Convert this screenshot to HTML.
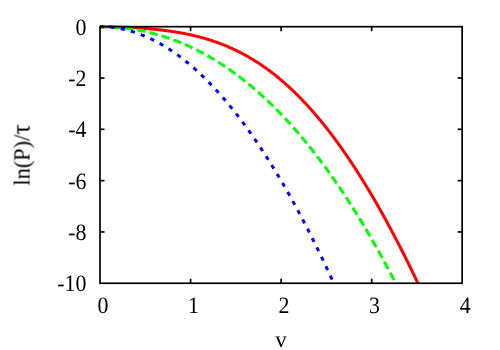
<!DOCTYPE html>
<html><head><meta charset="utf-8"><title>plot</title>
<style>
html,body{margin:0;padding:0;background:#fff;}
body{width:500px;height:350px;overflow:hidden;}
svg{display:block;}
text{font-family:"Liberation Serif",serif;font-size:22.8px;fill:#000;text-rendering:geometricPrecision;}
</style></head><body>
<svg width="500" height="350" viewBox="0 0 500 350">
<rect width="500" height="350" fill="#fff"/>
<g fill="none" stroke-width="3" stroke-linejoin="round">
<path d="M100.00,26.70 L100.64,26.70 L101.27,26.70 L101.91,26.70 L102.55,26.71 L103.19,26.71 L103.82,26.71 L104.46,26.72 L105.10,26.72 L105.73,26.73 L106.37,26.74 L107.01,26.75 L107.65,26.76 L108.28,26.76 L108.92,26.77 L109.56,26.79 L110.19,26.80 L110.83,26.81 L111.47,26.82 L112.11,26.84 L112.74,26.85 L113.38,26.86 L114.02,26.88 L114.65,26.90 L115.29,26.91 L115.93,26.93 L116.57,26.95 L117.20,26.97 L117.84,26.99 L118.48,27.01 L119.11,27.03 L119.75,27.05 L120.39,27.07 L121.02,27.09 L121.66,27.12 L122.30,27.14 L122.94,27.17 L123.57,27.19 L124.21,27.22 L124.85,27.24 L125.48,27.27 L126.12,27.30 L126.76,27.33 L127.40,27.36 L128.03,27.39 L128.67,27.42 L129.31,27.45 L129.94,27.48 L130.58,27.51 L131.22,27.55 L131.86,27.58 L132.49,27.61 L133.13,27.65 L133.77,27.69 L134.40,27.72 L135.04,27.76 L135.68,27.80 L136.32,27.84 L136.95,27.88 L137.59,27.92 L138.23,27.96 L138.86,28.00 L139.50,28.04 L140.14,28.09 L140.78,28.13 L141.41,28.18 L142.05,28.22 L142.69,28.27 L143.32,28.31 L143.96,28.36 L144.60,28.41 L145.24,28.46 L145.87,28.51 L146.51,28.56 L147.15,28.62 L147.78,28.67 L148.42,28.72 L149.06,28.78 L149.70,28.83 L150.33,28.89 L150.97,28.95 L151.61,29.01 L152.24,29.07 L152.88,29.13 L153.52,29.19 L154.15,29.25 L154.79,29.32 L155.43,29.38 L156.07,29.45 L156.70,29.51 L157.34,29.58 L157.98,29.65 L158.61,29.72 L159.25,29.79 L159.89,29.86 L160.53,29.93 L161.16,30.01 L161.80,30.08 L162.44,30.16 L163.07,30.24 L163.71,30.31 L164.35,30.39 L164.99,30.47 L165.62,30.56 L166.26,30.64 L166.90,30.72 L167.53,30.81 L168.17,30.90 L168.81,30.98 L169.45,31.07 L170.08,31.16 L170.72,31.26 L171.36,31.35 L171.99,31.44 L172.63,31.54 L173.27,31.64 L173.91,31.74 L174.54,31.84 L175.18,31.94 L175.82,32.04 L176.45,32.14 L177.09,32.25 L177.73,32.36 L178.37,32.47 L179.00,32.58 L179.64,32.69 L180.28,32.80 L180.91,32.92 L181.55,33.03 L182.19,33.15 L182.83,33.27 L183.46,33.39 L184.10,33.51 L184.74,33.64 L185.37,33.76 L186.01,33.89 L186.65,34.02 L187.28,34.15 L187.92,34.28 L188.56,34.42 L189.20,34.55 L189.83,34.69 L190.47,34.83 L191.11,34.97 L191.74,35.12 L192.38,35.26 L193.02,35.41 L193.66,35.56 L194.29,35.71 L194.93,35.86 L195.57,36.01 L196.20,36.17 L196.84,36.33 L197.48,36.49 L198.12,36.65 L198.75,36.81 L199.39,36.98 L200.03,37.15 L200.66,37.32 L201.30,37.49 L201.94,37.66 L202.58,37.84 L203.21,38.02 L203.85,38.20 L204.49,38.38 L205.12,38.56 L205.76,38.75 L206.40,38.94 L207.04,39.13 L207.67,39.32 L208.31,39.52 L208.95,39.72 L209.58,39.91 L210.22,40.12 L210.86,40.32 L211.50,40.53 L212.13,40.74 L212.77,40.95 L213.41,41.16 L214.04,41.38 L214.68,41.60 L215.32,41.82 L215.96,42.04 L216.59,42.26 L217.23,42.49 L217.87,42.72 L218.50,42.96 L219.14,43.19 L219.78,43.43 L220.41,43.67 L221.05,43.91 L221.69,44.16 L222.33,44.40 L222.96,44.65 L223.60,44.91 L224.24,45.16 L224.87,45.42 L225.51,45.68 L226.15,45.94 L226.79,46.21 L227.42,46.48 L228.06,46.75 L228.70,47.02 L229.33,47.30 L229.97,47.58 L230.61,47.86 L231.25,48.15 L231.88,48.44 L232.52,48.73 L233.16,49.02 L233.79,49.32 L234.43,49.61 L235.07,49.92 L235.71,50.22 L236.34,50.53 L236.98,50.84 L237.62,51.15 L238.25,51.47 L238.89,51.79 L239.53,52.11 L240.17,52.43 L240.80,52.76 L241.44,53.09 L242.08,53.43 L242.71,53.76 L243.35,54.10 L243.99,54.45 L244.63,54.79 L245.26,55.14 L245.90,55.49 L246.54,55.85 L247.17,56.21 L247.81,56.57 L248.45,56.93 L249.09,57.30 L249.72,57.67 L250.36,58.04 L251.00,58.42 L251.63,58.80 L252.27,59.18 L252.91,59.57 L253.55,59.96 L254.18,60.35 L254.82,60.75 L255.46,61.15 L256.09,61.55 L256.73,61.96 L257.37,62.36 L258.00,62.78 L258.64,63.19 L259.28,63.61 L259.92,64.03 L260.55,64.46 L261.19,64.89 L261.83,65.32 L262.46,65.76 L263.10,66.20 L263.74,66.64 L264.38,67.08 L265.01,67.53 L265.65,67.99 L266.29,68.44 L266.92,68.90 L267.56,69.36 L268.20,69.83 L268.84,70.30 L269.47,70.77 L270.11,71.25 L270.75,71.73 L271.38,72.21 L272.02,72.70 L272.66,73.19 L273.30,73.69 L273.93,74.18 L274.57,74.69 L275.21,75.19 L275.84,75.70 L276.48,76.21 L277.12,76.73 L277.76,77.25 L278.39,77.77 L279.03,78.29 L279.67,78.82 L280.30,79.36 L280.94,79.89 L281.58,80.44 L282.22,80.98 L282.85,81.53 L283.49,82.08 L284.13,82.63 L284.76,83.19 L285.40,83.76 L286.04,84.32 L286.68,84.89 L287.31,85.47 L287.95,86.04 L288.59,86.62 L289.22,87.21 L289.86,87.80 L290.50,88.39 L291.13,88.99 L291.77,89.59 L292.41,90.19 L293.05,90.80 L293.68,91.41 L294.32,92.02 L294.96,92.64 L295.59,93.26 L296.23,93.89 L296.87,94.52 L297.51,95.15 L298.14,95.79 L298.78,96.43 L299.42,97.07 L300.05,97.72 L300.69,98.37 L301.33,99.03 L301.97,99.69 L302.60,100.35 L303.24,101.02 L303.88,101.69 L304.51,102.37 L305.15,103.05 L305.79,103.73 L306.43,104.41 L307.06,105.10 L307.70,105.80 L308.34,106.50 L308.97,107.20 L309.61,107.90 L310.25,108.61 L310.89,109.33 L311.52,110.04 L312.16,110.77 L312.80,111.49 L313.43,112.22 L314.07,112.95 L314.71,113.69 L315.35,114.43 L315.98,115.17 L316.62,115.92 L317.26,116.67 L317.89,117.43 L318.53,118.19 L319.17,118.95 L319.81,119.72 L320.44,120.49 L321.08,121.26 L321.72,122.04 L322.35,122.83 L322.99,123.61 L323.63,124.40 L324.26,125.20 L324.90,126.00 L325.54,126.80 L326.18,127.60 L326.81,128.41 L327.45,129.23 L328.09,130.05 L328.72,130.87 L329.36,131.69 L330.00,132.52 L330.64,133.36 L331.27,134.19 L331.91,135.03 L332.55,135.88 L333.18,136.73 L333.82,137.58 L334.46,138.44 L335.10,139.30 L335.73,140.16 L336.37,141.03 L337.01,141.90 L337.64,142.78 L338.28,143.66 L338.92,144.54 L339.56,145.43 L340.19,146.32 L340.83,147.21 L341.47,148.11 L342.10,149.02 L342.74,149.92 L343.38,150.83 L344.02,151.75 L344.65,152.67 L345.29,153.59 L345.93,154.51 L346.56,155.44 L347.20,156.38 L347.84,157.31 L348.48,158.26 L349.11,159.20 L349.75,160.15 L350.39,161.10 L351.02,162.06 L351.66,163.02 L352.30,163.98 L352.94,164.95 L353.57,165.92 L354.21,166.90 L354.85,167.88 L355.48,168.86 L356.12,169.85 L356.76,170.84 L357.39,171.84 L358.03,172.83 L358.67,173.84 L359.31,174.84 L359.94,175.85 L360.58,176.87 L361.22,177.88 L361.85,178.91 L362.49,179.93 L363.13,180.96 L363.77,181.99 L364.40,183.03 L365.04,184.07 L365.68,185.11 L366.31,186.16 L366.95,187.21 L367.59,188.27 L368.23,189.33 L368.86,190.39 L369.50,191.46 L370.14,192.53 L370.77,193.60 L371.41,194.68 L372.05,195.76 L372.69,196.84 L373.32,197.93 L373.96,199.03 L374.60,200.12 L375.23,201.22 L375.87,202.33 L376.51,203.43 L377.15,204.54 L377.78,205.66 L378.42,206.78 L379.06,207.90 L379.69,209.03 L380.33,210.16 L380.97,211.29 L381.61,212.43 L382.24,213.57 L382.88,214.71 L383.52,215.86 L384.15,217.01 L384.79,218.17 L385.43,219.33 L386.07,220.49 L386.70,221.66 L387.34,222.83 L387.98,224.00 L388.61,225.18 L389.25,226.36 L389.89,227.54 L390.53,228.73 L391.16,229.92 L391.80,231.12 L392.44,232.32 L393.07,233.52 L393.71,234.73 L394.35,235.94 L394.98,237.15 L395.62,238.37 L396.26,239.59 L396.90,240.82 L397.53,242.04 L398.17,243.28 L398.81,244.51 L399.44,245.75 L400.08,246.99 L400.72,248.24 L401.36,249.49 L401.99,250.74 L402.63,252.00 L403.27,253.26 L403.90,254.52 L404.54,255.79 L405.18,257.06 L405.82,258.34 L406.45,259.62 L407.09,260.90 L407.73,262.19 L408.36,263.48 L409.00,264.77 L409.64,266.07 L410.28,267.37 L410.91,268.67 L411.55,269.98 L412.19,271.29 L412.82,272.60 L413.46,273.92 L414.10,275.24 L414.74,276.57 L415.37,277.90 L416.01,279.23 L416.65,280.57 L417.28,281.91 L417.92,283.25" stroke="#ff0000"/>
<path d="M100.00,26.70 L100.59,26.70 L101.19,26.70 L101.78,26.71 L102.37,26.71 L102.96,26.72 L103.56,26.73 L104.15,26.74 L104.74,26.75 L105.33,26.77 L105.93,26.78 L106.52,26.80 L107.11,26.82 L107.70,26.84 L108.30,26.86 L108.89,26.88 L109.48,26.91 L110.08,26.93 L110.67,26.96 L111.26,26.99 L111.85,27.02 L112.45,27.06 L113.04,27.09 L113.63,27.13 L114.22,27.17 L114.82,27.21 L115.41,27.25 L116.00,27.29 L116.60,27.34 L117.19,27.38 L117.78,27.43 L118.37,27.48 L118.97,27.54 L119.56,27.59 L120.15,27.64 L120.74,27.70 L121.34,27.76 L121.93,27.82 L122.52,27.88 L123.11,27.95 L123.71,28.01 L124.30,28.08 L124.89,28.15 L125.49,28.22 L126.08,28.29 L126.67,28.36 L127.26,28.44 L127.86,28.52 L128.45,28.60 L129.04,28.68 L129.63,28.76 L130.23,28.84 L130.82,28.93 L131.41,29.02 L132.01,29.11 L132.60,29.20 L133.19,29.29 L133.78,29.39 L134.38,29.48 L134.97,29.58 L135.56,29.68 L136.15,29.78 L136.75,29.89 L137.34,29.99 L137.93,30.10 L138.52,30.21 L139.12,30.32 L139.71,30.43 L140.30,30.55 L140.90,30.66 L141.49,30.78 L142.08,30.90 L142.67,31.02 L143.27,31.14 L143.86,31.27 L144.45,31.40 L145.04,31.52 L145.64,31.65 L146.23,31.79 L146.82,31.92 L147.42,32.06 L148.01,32.19 L148.60,32.33 L149.19,32.48 L149.79,32.62 L150.38,32.76 L150.97,32.91 L151.56,33.06 L152.16,33.21 L152.75,33.36 L153.34,33.52 L153.93,33.67 L154.53,33.83 L155.12,33.99 L155.71,34.15 L156.31,34.31 L156.90,34.48 L157.49,34.65 L158.08,34.81 L158.68,34.98 L159.27,35.16 L159.86,35.33 L160.45,35.51 L161.05,35.69 L161.64,35.87 L162.23,36.05 L162.82,36.23 L163.42,36.42 L164.01,36.61 L164.60,36.79 L165.20,36.99 L165.79,37.18 L166.38,37.37 L166.97,37.57 L167.57,37.77 L168.16,37.97 L168.75,38.17 L169.34,38.38 L169.94,38.58 L170.53,38.79 L171.12,39.00 L171.72,39.22 L172.31,39.43 L172.90,39.65 L173.49,39.86 L174.09,40.08 L174.68,40.31 L175.27,40.53 L175.86,40.76 L176.46,40.98 L177.05,41.21 L177.64,41.44 L178.23,41.68 L178.83,41.91 L179.42,42.15 L180.01,42.39 L180.61,42.63 L181.20,42.88 L181.79,43.12 L182.38,43.37 L182.98,43.62 L183.57,43.87 L184.16,44.12 L184.75,44.38 L185.35,44.63 L185.94,44.89 L186.53,45.15 L187.13,45.42 L187.72,45.68 L188.31,45.95 L188.90,46.22 L189.50,46.49 L190.09,46.76 L190.68,47.04 L191.27,47.31 L191.87,47.59 L192.46,47.87 L193.05,48.16 L193.64,48.44 L194.24,48.73 L194.83,49.02 L195.42,49.31 L196.02,49.60 L196.61,49.90 L197.20,50.20 L197.79,50.49 L198.39,50.80 L198.98,51.10 L199.57,51.40 L200.16,51.71 L200.76,52.02 L201.35,52.33 L201.94,52.65 L202.54,52.96 L203.13,53.28 L203.72,53.60 L204.31,53.92 L204.91,54.25 L205.50,54.57 L206.09,54.90 L206.68,55.23 L207.28,55.56 L207.87,55.90 L208.46,56.23 L209.05,56.57 L209.65,56.91 L210.24,57.25 L210.83,57.60 L211.43,57.95 L212.02,58.30 L212.61,58.65 L213.20,59.00 L213.80,59.35 L214.39,59.71 L214.98,60.07 L215.57,60.43 L216.17,60.80 L216.76,61.16 L217.35,61.53 L217.94,61.90 L218.54,62.27 L219.13,62.65 L219.72,63.02 L220.32,63.40 L220.91,63.78 L221.50,64.17 L222.09,64.55 L222.69,64.94 L223.28,65.33 L223.87,65.72 L224.46,66.12 L225.06,66.51 L225.65,66.91 L226.24,67.31 L226.84,67.71 L227.43,68.12 L228.02,68.52 L228.61,68.93 L229.21,69.34 L229.80,69.76 L230.39,70.17 L230.98,70.59 L231.58,71.01 L232.17,71.43 L232.76,71.86 L233.35,72.28 L233.95,72.71 L234.54,73.14 L235.13,73.58 L235.73,74.01 L236.32,74.45 L236.91,74.89 L237.50,75.33 L238.10,75.78 L238.69,76.22 L239.28,76.67 L239.87,77.12 L240.47,77.58 L241.06,78.03 L241.65,78.49 L242.25,78.95 L242.84,79.41 L243.43,79.88 L244.02,80.35 L244.62,80.82 L245.21,81.29 L245.80,81.76 L246.39,82.24 L246.99,82.72 L247.58,83.20 L248.17,83.68 L248.76,84.16 L249.36,84.65 L249.95,85.14 L250.54,85.63 L251.14,86.13 L251.73,86.62 L252.32,87.12 L252.91,87.62 L253.51,88.13 L254.10,88.63 L254.69,89.14 L255.28,89.65 L255.88,90.17 L256.47,90.68 L257.06,91.20 L257.66,91.72 L258.25,92.24 L258.84,92.77 L259.43,93.29 L260.03,93.82 L260.62,94.35 L261.21,94.89 L261.80,95.42 L262.40,95.96 L262.99,96.50 L263.58,97.05 L264.17,97.59 L264.77,98.14 L265.36,98.69 L265.95,99.25 L266.55,99.80 L267.14,100.36 L267.73,100.92 L268.32,101.48 L268.92,102.05 L269.51,102.61 L270.10,103.18 L270.69,103.76 L271.29,104.33 L271.88,104.91 L272.47,105.49 L273.06,106.07 L273.66,106.65 L274.25,107.24 L274.84,107.83 L275.44,108.42 L276.03,109.01 L276.62,109.61 L277.21,110.21 L277.81,110.81 L278.40,111.41 L278.99,112.02 L279.58,112.63 L280.18,113.24 L280.77,113.85 L281.36,114.47 L281.96,115.09 L282.55,115.71 L283.14,116.33 L283.73,116.96 L284.33,117.59 L284.92,118.22 L285.51,118.85 L286.10,119.49 L286.70,120.13 L287.29,120.77 L287.88,121.41 L288.47,122.06 L289.07,122.70 L289.66,123.35 L290.25,124.01 L290.85,124.66 L291.44,125.32 L292.03,125.98 L292.62,126.65 L293.22,127.31 L293.81,127.98 L294.40,128.65 L294.99,129.33 L295.59,130.00 L296.18,130.68 L296.77,131.36 L297.37,132.05 L297.96,132.73 L298.55,133.42 L299.14,134.11 L299.74,134.81 L300.33,135.50 L300.92,136.20 L301.51,136.90 L302.11,137.61 L302.70,138.32 L303.29,139.03 L303.88,139.74 L304.48,140.45 L305.07,141.17 L305.66,141.89 L306.26,142.61 L306.85,143.34 L307.44,144.06 L308.03,144.79 L308.63,145.53 L309.22,146.26 L309.81,147.00 L310.40,147.74 L311.00,148.49 L311.59,149.23 L312.18,149.98 L312.78,150.73 L313.37,151.49 L313.96,152.24 L314.55,153.00 L315.15,153.76 L315.74,154.53 L316.33,155.29 L316.92,156.06 L317.52,156.84 L318.11,157.61 L318.70,158.39 L319.29,159.17 L319.89,159.95 L320.48,160.74 L321.07,161.53 L321.67,162.32 L322.26,163.11 L322.85,163.91 L323.44,164.71 L324.04,165.51 L324.63,166.31 L325.22,167.12 L325.81,167.93 L326.41,168.74 L327.00,169.56 L327.59,170.38 L328.18,171.20 L328.78,172.02 L329.37,172.85 L329.96,173.68 L330.56,174.51 L331.15,175.34 L331.74,176.18 L332.33,177.02 L332.93,177.86 L333.52,178.71 L334.11,179.56 L334.70,180.41 L335.30,181.26 L335.89,182.12 L336.48,182.98 L337.08,183.84 L337.67,184.70 L338.26,185.57 L338.85,186.44 L339.45,187.31 L340.04,188.19 L340.63,189.07 L341.22,189.95 L341.82,190.83 L342.41,191.72 L343.00,192.61 L343.59,193.50 L344.19,194.40 L344.78,195.30 L345.37,196.20 L345.97,197.10 L346.56,198.01 L347.15,198.92 L347.74,199.83 L348.34,200.74 L348.93,201.66 L349.52,202.58 L350.11,203.50 L350.71,204.43 L351.30,205.36 L351.89,206.29 L352.49,207.23 L353.08,208.16 L353.67,209.10 L354.26,210.05 L354.86,210.99 L355.45,211.94 L356.04,212.89 L356.63,213.85 L357.23,214.80 L357.82,215.76 L358.41,216.73 L359.00,217.69 L359.60,218.66 L360.19,219.63 L360.78,220.61 L361.38,221.59 L361.97,222.57 L362.56,223.55 L363.15,224.53 L363.75,225.52 L364.34,226.52 L364.93,227.51 L365.52,228.51 L366.12,229.51 L366.71,230.51 L367.30,231.52 L367.89,232.53 L368.49,233.54 L369.08,234.55 L369.67,235.57 L370.27,236.59 L370.86,237.61 L371.45,238.64 L372.04,239.67 L372.64,240.70 L373.23,241.74 L373.82,242.78 L374.41,243.82 L375.01,244.86 L375.60,245.91 L376.19,246.96 L376.79,248.01 L377.38,249.07 L377.97,250.12 L378.56,251.19 L379.16,252.25 L379.75,253.32 L380.34,254.39 L380.93,255.46 L381.53,256.54 L382.12,257.62 L382.71,258.70 L383.30,259.78 L383.90,260.87 L384.49,261.96 L385.08,263.06 L385.68,264.15 L386.27,265.25 L386.86,266.35 L387.45,267.46 L388.05,268.57 L388.64,269.68 L389.23,270.79 L389.82,271.91 L390.42,273.03 L391.01,274.16 L391.60,275.28 L392.20,276.41 L392.79,277.54 L393.38,278.68 L393.97,279.82 L394.57,280.96 L395.16,282.10 L395.75,283.25" stroke="#00ff00" stroke-dasharray="8.3 4.2"/>
<path d="M100.00,26.70 L100.59,26.70 L101.17,26.71 L101.76,26.71 L102.34,26.73 L102.93,26.74 L103.52,26.76 L104.10,26.78 L104.69,26.80 L105.27,26.83 L105.86,26.86 L106.44,26.89 L107.03,26.93 L107.62,26.97 L108.20,27.02 L108.79,27.06 L109.37,27.11 L109.96,27.17 L110.55,27.22 L111.13,27.28 L111.72,27.34 L112.30,27.41 L112.89,27.48 L113.48,27.55 L114.06,27.63 L114.65,27.71 L115.23,27.79 L115.82,27.87 L116.40,27.96 L116.99,28.06 L117.58,28.15 L118.16,28.25 L118.75,28.35 L119.33,28.45 L119.92,28.56 L120.51,28.67 L121.09,28.79 L121.68,28.91 L122.26,29.03 L122.85,29.15 L123.44,29.28 L124.02,29.41 L124.61,29.54 L125.19,29.68 L125.78,29.82 L126.36,29.96 L126.95,30.11 L127.54,30.26 L128.12,30.41 L128.71,30.57 L129.29,30.73 L129.88,30.89 L130.47,31.06 L131.05,31.23 L131.64,31.40 L132.22,31.57 L132.81,31.75 L133.40,31.94 L133.98,32.12 L134.57,32.31 L135.15,32.50 L135.74,32.70 L136.32,32.89 L136.91,33.10 L137.50,33.30 L138.08,33.51 L138.67,33.72 L139.25,33.93 L139.84,34.15 L140.43,34.37 L141.01,34.60 L141.60,34.82 L142.18,35.05 L142.77,35.29 L143.36,35.52 L143.94,35.76 L144.53,36.01 L145.11,36.25 L145.70,36.50 L146.28,36.76 L146.87,37.01 L147.46,37.27 L148.04,37.54 L148.63,37.80 L149.21,38.07 L149.80,38.34 L150.39,38.62 L150.97,38.90 L151.56,39.18 L152.14,39.46 L152.73,39.75 L153.32,40.04 L153.90,40.34 L154.49,40.64 L155.07,40.94 L155.66,41.24 L156.24,41.55 L156.83,41.86 L157.42,42.18 L158.00,42.49 L158.59,42.81 L159.17,43.14 L159.76,43.47 L160.35,43.80 L160.93,44.13 L161.52,44.47 L162.10,44.81 L162.69,45.15 L163.28,45.50 L163.86,45.85 L164.45,46.20 L165.03,46.56 L165.62,46.91 L166.20,47.28 L166.79,47.64 L167.38,48.01 L167.96,48.38 L168.55,48.76 L169.13,49.14 L169.72,49.52 L170.31,49.91 L170.89,50.29 L171.48,50.69 L172.06,51.08 L172.65,51.48 L173.24,51.88 L173.82,52.28 L174.41,52.69 L174.99,53.10 L175.58,53.52 L176.16,53.93 L176.75,54.35 L177.34,54.78 L177.92,55.21 L178.51,55.64 L179.09,56.07 L179.68,56.51 L180.27,56.95 L180.85,57.39 L181.44,57.84 L182.02,58.29 L182.61,58.74 L183.20,59.19 L183.78,59.65 L184.37,60.12 L184.95,60.58 L185.54,61.05 L186.12,61.52 L186.71,62.00 L187.30,62.48 L187.88,62.96 L188.47,63.44 L189.05,63.93 L189.64,64.42 L190.23,64.92 L190.81,65.42 L191.40,65.92 L191.98,66.42 L192.57,66.93 L193.16,67.44 L193.74,67.95 L194.33,68.47 L194.91,68.99 L195.50,69.52 L196.08,70.04 L196.67,70.57 L197.26,71.11 L197.84,71.64 L198.43,72.18 L199.01,72.73 L199.60,73.27 L200.19,73.82 L200.77,74.37 L201.36,74.93 L201.94,75.49 L202.53,76.05 L203.12,76.62 L203.70,77.19 L204.29,77.76 L204.87,78.33 L205.46,78.91 L206.04,79.49 L206.63,80.08 L207.22,80.67 L207.80,81.26 L208.39,81.85 L208.97,82.45 L209.56,83.05 L210.15,83.66 L210.73,84.26 L211.32,84.87 L211.90,85.49 L212.49,86.11 L213.08,86.73 L213.66,87.35 L214.25,87.98 L214.83,88.61 L215.42,89.24 L216.00,89.88 L216.59,90.52 L217.18,91.16 L217.76,91.81 L218.35,92.46 L218.93,93.11 L219.52,93.76 L220.11,94.42 L220.69,95.08 L221.28,95.75 L221.86,96.42 L222.45,97.09 L223.04,97.77 L223.62,98.44 L224.21,99.13 L224.79,99.81 L225.38,100.50 L225.96,101.19 L226.55,101.89 L227.14,102.58 L227.72,103.28 L228.31,103.99 L228.89,104.70 L229.48,105.41 L230.07,106.12 L230.65,106.84 L231.24,107.56 L231.82,108.28 L232.41,109.01 L233.00,109.74 L233.58,110.47 L234.17,111.21 L234.75,111.95 L235.34,112.69 L235.92,113.44 L236.51,114.19 L237.10,114.94 L237.68,115.69 L238.27,116.45 L238.85,117.22 L239.44,117.98 L240.03,118.75 L240.61,119.52 L241.20,120.30 L241.78,121.07 L242.37,121.86 L242.96,122.64 L243.54,123.43 L244.13,124.22 L244.71,125.02 L245.30,125.81 L245.88,126.61 L246.47,127.42 L247.06,128.23 L247.64,129.04 L248.23,129.85 L248.81,130.67 L249.40,131.49 L249.99,132.31 L250.57,133.14 L251.16,133.97 L251.74,134.80 L252.33,135.64 L252.92,136.48 L253.50,137.32 L254.09,138.16 L254.67,139.01 L255.26,139.87 L255.84,140.72 L256.43,141.58 L257.02,142.44 L257.60,143.31 L258.19,144.18 L258.77,145.05 L259.36,145.92 L259.95,146.80 L260.53,147.68 L261.12,148.57 L261.70,149.46 L262.29,150.35 L262.88,151.24 L263.46,152.14 L264.05,153.04 L264.63,153.94 L265.22,154.85 L265.80,155.76 L266.39,156.68 L266.98,157.59 L267.56,158.51 L268.15,159.44 L268.73,160.36 L269.32,161.29 L269.91,162.23 L270.49,163.16 L271.08,164.10 L271.66,165.04 L272.25,165.99 L272.84,166.94 L273.42,167.89 L274.01,168.85 L274.59,169.81 L275.18,170.77 L275.76,171.73 L276.35,172.70 L276.94,173.67 L277.52,174.65 L278.11,175.63 L278.69,176.61 L279.28,177.59 L279.87,178.58 L280.45,179.57 L281.04,180.57 L281.62,181.56 L282.21,182.56 L282.80,183.57 L283.38,184.58 L283.97,185.59 L284.55,186.60 L285.14,187.62 L285.72,188.64 L286.31,189.66 L286.90,190.69 L287.48,191.72 L288.07,192.75 L288.65,193.79 L289.24,194.82 L289.83,195.87 L290.41,196.91 L291.00,197.96 L291.58,199.01 L292.17,200.07 L292.76,201.13 L293.34,202.19 L293.93,203.26 L294.51,204.32 L295.10,205.40 L295.68,206.47 L296.27,207.55 L296.86,208.63 L297.44,209.71 L298.03,210.80 L298.61,211.89 L299.20,212.99 L299.79,214.09 L300.37,215.19 L300.96,216.29 L301.54,217.40 L302.13,218.51 L302.72,219.62 L303.30,220.74 L303.89,221.86 L304.47,222.98 L305.06,224.11 L305.64,225.24 L306.23,226.37 L306.82,227.51 L307.40,228.64 L307.99,229.79 L308.57,230.93 L309.16,232.08 L309.75,233.23 L310.33,234.39 L310.92,235.55 L311.50,236.71 L312.09,237.88 L312.68,239.04 L313.26,240.22 L313.85,241.39 L314.43,242.57 L315.02,243.75 L315.60,244.93 L316.19,246.12 L316.78,247.31 L317.36,248.51 L317.95,249.70 L318.53,250.90 L319.12,252.11 L319.71,253.32 L320.29,254.53 L320.88,255.74 L321.46,256.96 L322.05,258.18 L322.64,259.40 L323.22,260.62 L323.81,261.85 L324.39,263.09 L324.98,264.32 L325.56,265.56 L326.15,266.80 L326.74,268.05 L327.32,269.30 L327.91,270.55 L328.49,271.81 L329.08,273.07 L329.67,274.33 L330.25,275.59 L330.84,276.86 L331.42,278.13 L332.01,279.41 L332.60,280.68 L333.18,281.97 L333.77,283.25" stroke="#0000ff" stroke-dasharray="4.2 6.24"/>
</g>
<g stroke="#000" stroke-width="1.7"><line x1="190.59" y1="283.25" x2="190.59" y2="278.75"/><line x1="190.59" y1="26.7" x2="190.59" y2="31.2"/><line x1="281.12" y1="283.25" x2="281.12" y2="278.75"/><line x1="281.12" y1="26.7" x2="281.12" y2="31.2"/><line x1="371.66" y1="283.25" x2="371.66" y2="278.75"/><line x1="371.66" y1="26.7" x2="371.66" y2="31.2"/><line x1="100.0" y1="78.01" x2="104.5" y2="78.01"/><line x1="462.15" y1="78.01" x2="457.65" y2="78.01"/><line x1="100.0" y1="129.32" x2="104.5" y2="129.32"/><line x1="462.15" y1="129.32" x2="457.65" y2="129.32"/><line x1="100.0" y1="180.63" x2="104.5" y2="180.63"/><line x1="462.15" y1="180.63" x2="457.65" y2="180.63"/><line x1="100.0" y1="231.94" x2="104.5" y2="231.94"/><line x1="462.15" y1="231.94" x2="457.65" y2="231.94"/></g>
<rect x="100.0" y="26.7" width="362.15" height="256.55" fill="none" stroke="#000" stroke-width="1.7"/>
<g style="will-change:transform"><text transform="translate(102.95,313.1) scale(0.96,1.03)" text-anchor="middle">0</text><text transform="translate(193.49,313.1) scale(0.96,1.03)" text-anchor="middle">1</text><text transform="translate(284.02,313.1) scale(0.96,1.03)" text-anchor="middle">2</text><text transform="translate(374.56,313.1) scale(0.96,1.03)" text-anchor="middle">3</text><text transform="translate(465.10,313.1) scale(0.96,1.03)" text-anchor="middle">4</text><text transform="translate(86.4,34.85) scale(0.96,1.03)" text-anchor="end">0</text><text transform="translate(86.4,86.07) scale(0.96,1.03)" text-anchor="end">-2</text><text transform="translate(86.4,137.29) scale(0.96,1.03)" text-anchor="end">-4</text><text transform="translate(86.4,188.51) scale(0.96,1.03)" text-anchor="end">-6</text><text transform="translate(86.4,239.73) scale(0.96,1.03)" text-anchor="end">-8</text><text transform="translate(86.4,290.95) scale(0.96,1.03)" text-anchor="end">-10</text>
<text x="281" y="346.6" text-anchor="middle">v</text>
<text transform="translate(30.0,185.6) rotate(-90) scale(0.982,1.02)">ln(P)/<tspan font-size="26px">τ</tspan></text>
</g>
</svg>
</body></html>
